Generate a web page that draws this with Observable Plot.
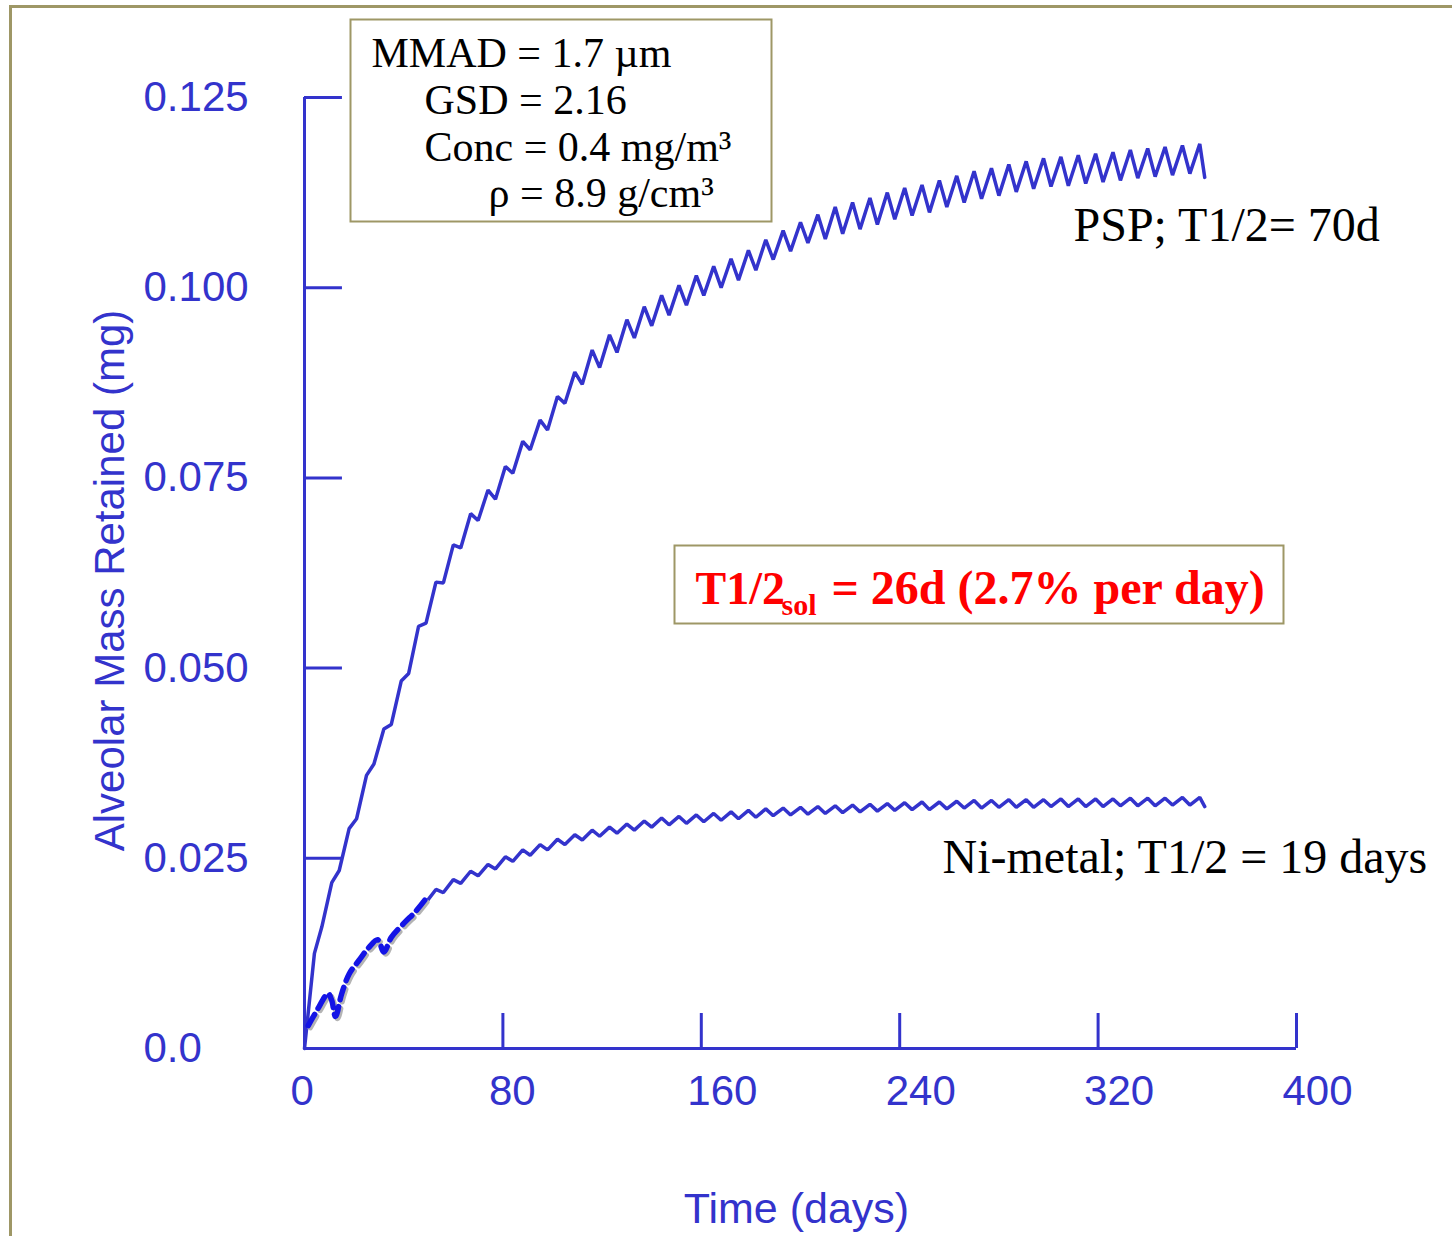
<!DOCTYPE html>
<html>
<head>
<meta charset="utf-8">
<script src="https://cdn.jsdelivr.net/npm/d3@7"></script>
<script src="https://cdn.jsdelivr.net/npm/@observablehq/plot@0.6"></script>
<style>
  html, body { margin: 0; padding: 0; background: #ffffff; }
  #chart svg { display: block; }
</style>
</head>
<body>
<div id="chart"></div>
<script>
// ---------- data ----------
// Start day of each exposure week
const weekDays = [0,7,14,21,28,35,42,49,56,63,70,77,84,91,98,105,112,119,126,133,140,147,154,161,168,175,182,189,196,203,210,217,224,231,238,245,252,259,266,273,280,287,294,301,308,315,322,329,336,343,350,357];
const PEAK_OFFSET = 4; // day within week where the weekly peak is reached

// PSP: retained mass at start of week (trough) and at the weekly peak (mg)
const pspLow  = [0.0000,0.0160,0.0234,0.0302,0.0374,0.0426,0.0493,0.0559,0.0612,0.0658,0.0694,0.0722,0.0756,0.0787,0.0813,0.0848,0.0873,0.0895,0.0915,0.0934,0.0950,0.0964,0.0977,0.0990,0.1000,0.1010,0.1023,0.1037,0.1048,0.1059,0.1064,0.1071,0.1077,0.1083,0.1090,0.1095,0.1099,0.1106,0.1112,0.1117,0.1121,0.1126,0.1130,0.1133,0.1134,0.1137,0.1139,0.1141,0.1144,0.1146,0.1148,0.1150];
const pspHigh = [0.0125,0.0218,0.0289,0.0359,0.0420,0.0483,0.0555,0.0613,0.0662,0.0703,0.0734,0.0765,0.0798,0.0826,0.0857,0.0889,0.0918,0.0938,0.0958,0.0975,0.0990,0.1003,0.1016,0.1028,0.1038,0.1049,0.1063,0.1075,0.1086,0.1096,0.1106,0.1112,0.1118,0.1125,0.1131,0.1135,0.1141,0.1147,0.1153,0.1157,0.1162,0.1166,0.1170,0.1172,0.1174,0.1176,0.1178,0.1181,0.1183,0.1185,0.1187,0.1189];
const pspEnd = {day: 363, mass: 0.1145};

// Ni-metal, early part (dashed)
const niEarlyDays   = [1.5, 5, 9.5, 11, 12.5, 15, 18, 22, 26, 29.5, 32, 35, 40.5, 44.5, 48.5];
const niEarlyValues = [0.0030,0.0050,0.0072,0.0063,0.0042,0.0072,0.0098,0.0116,0.0133,0.0143,0.0127,0.0146,0.0166,0.0179,0.0195];

// Ni-metal, weeks 7..51 (solid)
const niFirstWeek = 7;
const niLow  = [0.0192,0.0205,0.0217,0.0227,0.0236,0.0246,0.0254,0.0261,0.0268,0.0274,0.0279,0.0283,0.0287,0.0291,0.0294,0.0296,0.0298,0.0300,0.0302,0.0304,0.0306,0.0307,0.0308,0.0309,0.0310,0.0311,0.0312,0.0313,0.0314,0.0314,0.0315,0.0316,0.0316,0.0317,0.0317,0.0317,0.0318,0.0318,0.0318,0.0318,0.0319,0.0319,0.0319,0.0320,0.0320];
const niHigh = [0.0209,0.0222,0.0233,0.0242,0.0252,0.0261,0.0268,0.0275,0.0281,0.0287,0.0291,0.0295,0.0299,0.0303,0.0305,0.0307,0.0309,0.0311,0.0313,0.0315,0.0316,0.0317,0.0318,0.0319,0.0320,0.0321,0.0322,0.0323,0.0324,0.0324,0.0325,0.0326,0.0326,0.0327,0.0327,0.0327,0.0328,0.0328,0.0328,0.0328,0.0329,0.0329,0.0329,0.0330,0.0330];
const niEnd = {day: 363, mass: 0.0318};

// Axis ticks
const xTicks = [0, 80, 160, 240, 320, 400];
const xTickLabels = ["0", "80", "160", "240", "320", "400"];
const yTicks = [0, 0.025, 0.05, 0.075, 0.1, 0.125];
const yTickLabels = ["0.0", "0.025", "0.050", "0.075", "0.100", "0.125"];

// ---------- build tables ----------
const pspPoints = [];
weekDays.forEach((d, k) => {
  pspPoints.push({day: d, mass: pspLow[k]});
  pspPoints.push({day: d + PEAK_OFFSET, mass: pspHigh[k]});
});
pspPoints.push(pspEnd);

const niSolid = [];
niLow.forEach((v, i) => {
  const d = weekDays[i + niFirstWeek];
  niSolid.push({day: d, mass: v});
  niSolid.push({day: d + PEAK_OFFSET, mass: niHigh[i]});
});
niSolid.push(niEnd);

const niEarly = niEarlyDays.map((d, i) => ({day: d, mass: niEarlyValues[i]}));

// ---------- layout ----------
const W = 1452, H = 1236;
const ML = 304, MR = 156, MT = 97, MB = 188;
const BLUE = "#3333cc";
const OLIVE = "#9e9766";
const SANS = "'Liberation Sans', Arial, sans-serif";
const SERIF = "'Liberation Serif', 'Times New Roman', serif";

function note(txt, px, py, opts = {}) {
  return Plot.text([txt], {
    text: d => d,
    frameAnchor: "top-left",
    dx: px - ML,
    dy: py - MT,
    textAnchor: "start",
    lineAnchor: "bottom",
    ...opts
  });
}

// decorative frame and annotation boxes
const decor = () => {
  const g = d3.create("svg:g");
  g.append("path")
    .attr("d", `M10.5,${H} V6.5 H${W}`)
    .attr("fill", "none").attr("stroke", OLIVE).attr("stroke-width", 3);
  g.append("rect")
    .attr("x", 350.5).attr("y", 19.5).attr("width", 421).attr("height", 202)
    .attr("fill", "white").attr("stroke", OLIVE).attr("stroke-width", 2);
  g.append("rect")
    .attr("x", 674.5).attr("y", 545.5).attr("width", 609).attr("height", 78)
    .attr("fill", "white").attr("stroke", OLIVE).attr("stroke-width", 2);
  return g.node();
};

const chart = Plot.plot({
  width: W,
  height: H,
  marginLeft: ML, marginRight: MR, marginTop: MT, marginBottom: MB,
  style: {background: "white", fontFamily: SANS, overflow: "visible"},
  x: {domain: [0, 400], axis: null},
  y: {domain: [0, 0.125], axis: null},
  marks: [
    decor,
    // axes
    Plot.ruleX([0], {y1: 0, y2: 0.125, stroke: BLUE, strokeWidth: 3}),
    Plot.ruleY([0], {x1: 0, x2: 400, stroke: BLUE, strokeWidth: 3}),
    Plot.ruleY(yTicks.slice(1), {y: d => d, x1: 0, x2: 15.3, stroke: BLUE, strokeWidth: 3}),
    Plot.ruleX(xTicks.slice(1), {x: d => d, y1: 0, y2: 0.0046, stroke: BLUE, strokeWidth: 3}),
    Plot.text(yTicks, {
      y: d => d, text: (d, i) => yTickLabels[i], frameAnchor: "left",
      dx: -161, textAnchor: "start", lineAnchor: "middle",
      fill: BLUE, fontSize: 42, fontFamily: SANS
    }),
    Plot.text(xTicks, {
      x: d => d, text: (d, i) => xTickLabels[i], frameAnchor: "bottom",
      dx: -14, dy: 56, textAnchor: "start", lineAnchor: "bottom",
      fill: BLUE, fontSize: 42, fontFamily: SANS
    }),
    note("Alveolar Mass Retained (mg)", 110, 580, {rotate: -90, textAnchor: "middle", lineAnchor: "middle", fill: BLUE, fontSize: 42, fontFamily: SANS}),
    note("Time (days)", 796, 1222, {textAnchor: "middle", fill: BLUE, fontSize: 43, fontFamily: SANS}),
    // data lines
    Plot.line(pspPoints, {x: "day", y: "mass", stroke: BLUE, strokeWidth: 3.5, strokeLinejoin: "miter"}),
    Plot.line(niSolid, {x: "day", y: "mass", stroke: BLUE, strokeWidth: 3.5, strokeLinejoin: "miter"}),
    Plot.line(niEarly, {x: "day", y: "mass", stroke: "#b4b4b4", strokeWidth: 5.5, strokeDasharray: "13,7", dx: 2, dy: 2, curve: "catmull-rom"}),
    Plot.line(niEarly, {x: "day", y: "mass", stroke: "#1414e6", strokeWidth: 5.5, strokeDasharray: "13,7", curve: "catmull-rom"}),
    // annotations
    note("MMAD = 1.7 µm", 371, 66, {fontSize: 42, fontFamily: SERIF, fill: "black"}),
    note("GSD = 2.16", 424, 113, {fontSize: 42, fontFamily: SERIF, fill: "black"}),
    note("Conc = 0.4 mg/m³", 424, 160, {fontSize: 42, fontFamily: SERIF, fill: "black"}),
    note("ρ = 8.9 g/cm³", 488, 206, {fontSize: 42, fontFamily: SERIF, fill: "black"}),
    note("PSP; T1/2= 70d", 1073, 240, {fontSize: 48, fontFamily: SERIF, fill: "black"}),
    note("Ni-metal; T1/2 = 19 days", 942, 872, {fontSize: 48, fontFamily: SERIF, fill: "black"}),
    note("T1/2", 695, 603, {fontSize: 46, fontFamily: SERIF, fontWeight: "bold", fill: "#ff0000"}),
    note("sol", 781, 614, {fontSize: 30, fontFamily: SERIF, fontWeight: "bold", fill: "#ff0000"}),
    note("= 26d (2.7% per day)", 831, 603, {fontSize: 48, fontFamily: SERIF, fontWeight: "bold", fill: "#ff0000"})
  ]
});

document.getElementById("chart").appendChild(chart);
</script>
</body>
</html>
